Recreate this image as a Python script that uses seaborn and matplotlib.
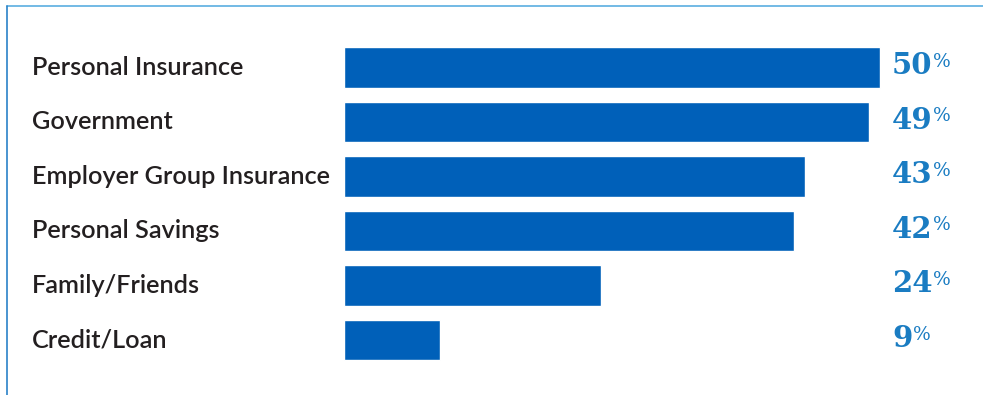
import matplotlib
matplotlib.use("Agg")
import matplotlib.pyplot as plt
import seaborn as sns
import pandas as pd

categories = ["Personal Insurance", "Government", "Employer Group Insurance",
              "Personal Savings", "Family/Friends", "Credit/Loan"]
values = [50, 49, 43, 42, 24, 9]
value_labels = ["50", "49", "43", "42", "24", "9"]

df = pd.DataFrame({"source": categories, "share": values})

sns.set_theme(style="white")
plt.rcParams["font.family"] = ["Lato", "DejaVu Sans"]

W, H = 983, 395
fig = plt.figure(figsize=(W / 100, H / 100), dpi=100)
ax = fig.add_axes([0, 0, 1, 1])

sns.barplot(data=df, x="share", y="source", orient="h", color="#0060b9",
            saturation=1, width=0.75, ax=ax)

# pixel layout: bar origin at x=344, 10.72 px per percent; rows 54.5 px apart
px_per = 10.72
x0 = 344
ax.set_xlim(-x0 / px_per, (W - x0) / px_per)
row0, pitch = 67.5, 54.5
ax.set_ylim((H - row0) / pitch, -row0 / pitch)
ax.axis("off")

label_base = (75 - row0) / pitch
num_base = (74.3 - row0) / pitch
pct_base = (67 - row0) / pitch

for i, (cat, lab) in enumerate(zip(categories, value_labels)):
    ax.text(-(x0 - 32) / px_per, i + label_base, cat, ha="left", va="baseline",
            fontsize=18.2, fontweight="semibold", color="#231f20")
    t = ax.text((892 - x0) / px_per, i + num_base, lab, ha="left", va="baseline",
                fontsize=21, fontweight="bold", color="#1a7cc2",
                family="DejaVu Serif")
    ax.annotate("%", xy=(1, i + pct_base), xycoords=(t, "data"),
                xytext=(0.4, 0), textcoords="offset points",
                ha="left", va="baseline",
                fontsize=13.5, color="#1a7cc2", family="DejaVu Serif")

# frame lines along the top and left edges
fig.add_artist(plt.Line2D([7 / W, 1], [1 - 6 / H, 1 - 6 / H],
                          transform=fig.transFigure, color="#5aaee0", lw=1.2))
fig.add_artist(plt.Line2D([7 / W, 7 / W], [0, 1 - 6 / H],
                          transform=fig.transFigure, color="#2a82c8", lw=1.2))

fig.savefig("out.png", dpi=100)
